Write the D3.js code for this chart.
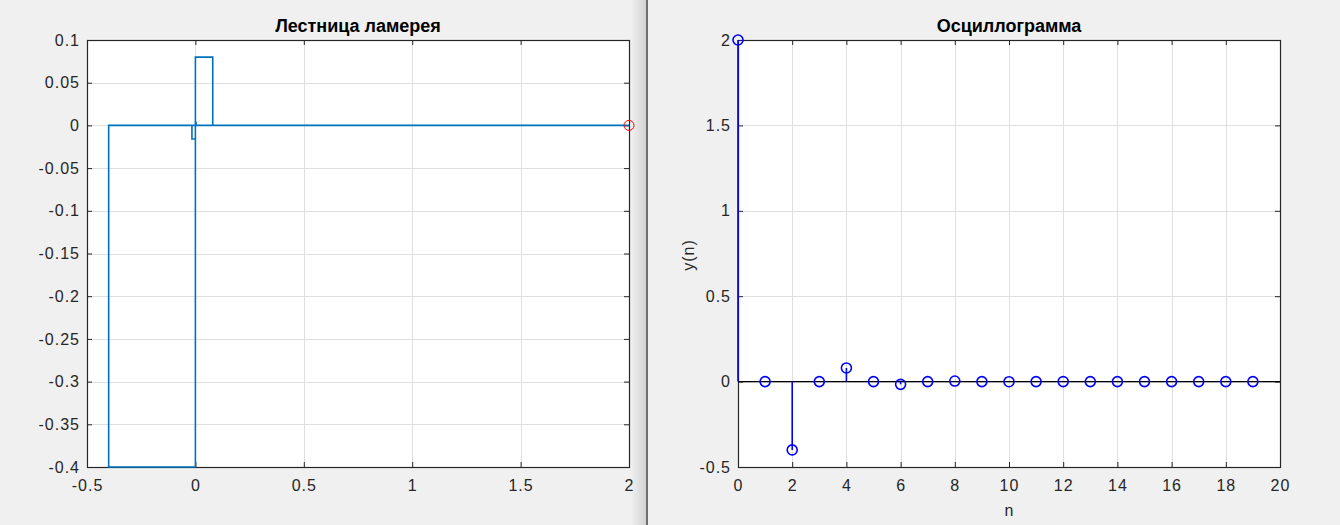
<!DOCTYPE html>
<html><head><meta charset="utf-8">
<script src="https://cdn.jsdelivr.net/npm/d3@7"></script>
<style>
html,body{margin:0;padding:0;background:#F0F0F0;}
svg{display:block;font-family:"Liberation Sans",Arial,Helvetica,sans-serif;}
</style></head>
<body>
<svg id="c" width="1340" height="525"></svg>
<script>
// ---- data ----
const leftTitle = "Лестница ламерея";
const rightTitle = "Осциллограмма";
const leftXTicks = [-0.5, 0, 0.5, 1, 1.5, 2];
const leftYTicks = [-0.4, -0.35, -0.3, -0.25, -0.2, -0.15, -0.1, -0.05, 0, 0.05, 0.1];
const rightXTicks = [0, 2, 4, 6, 8, 10, 12, 14, 16, 18, 20];
const rightYTicks = [-0.5, 0, 0.5, 1, 1.5, 2];
// sequence y(n), n = 0..19
const nValues = [0,1,2,3,4,5,6,7,8,9,10,11,12,13,14,15,16,17,18,19];
const yValues = [2, 0, -0.4, 0, 0.08, 0, -0.016, 0, 0.0032, 0, -0.00064, 0, 0.000128, 0, -0.0000256, 0, 0.00000512, 0, -0.000001024, 0];
// Lamerey staircase vertices (x, y)
const stairX = [2, 0, 0, -0.4, -0.4, 0, 0, 0.08, 0.08, 0, 0, -0.016, -0.016, 0, 0, 0.0032, 0.0032, 0];
const stairY = [0, 0, -0.4, -0.4, 0, 0, 0.08, 0.08, 0, 0, -0.016, -0.016, 0, 0, 0.0032, 0.0032, 0, 0];
const startPoint = [2, 0];

const svg = d3.select("#c");
const axisCol = "#262626", gridCol = "#DFDFDF";
const fontSize = 16;

// divider between two windows
const defs = svg.append("defs");
const g = defs.append("linearGradient").attr("id","sh").attr("x1","0").attr("x2","1");
g.append("stop").attr("offset","0").attr("stop-color","#F0F0F0");
g.append("stop").attr("offset","1").attr("stop-color","#D2D2D2");
svg.append("rect").attr("x",631).attr("y",0).attr("width",15).attr("height",525).attr("fill","url(#sh)");
svg.append("rect").attr("x",646).attr("y",0).attr("width",2).attr("height",525).attr("fill","#6E6E6E");

function panel(x0, x1, y0, y1, xd, yd, xt, yt, title) {
  const x = d3.scaleLinear().domain(xd).range([x0, x1]);
  const y = d3.scaleLinear().domain(yd).range([y1, y0]);
  const gp = svg.append("g");
  gp.append("rect").attr("x",x0).attr("y",y0).attr("width",x1-x0).attr("height",y1-y0).attr("fill","#fff");
  // grid
  gp.append("g").selectAll("line").data(xt).join("line")
    .attr("x1",d=>Math.round(x(d))+0.5).attr("x2",d=>Math.round(x(d))+0.5)
    .attr("y1",y0).attr("y2",y1).attr("stroke",gridCol).attr("stroke-width",1);
  gp.append("g").selectAll("line").data(yt).join("line")
    .attr("y1",d=>Math.round(y(d))+0.5).attr("y2",d=>Math.round(y(d))+0.5)
    .attr("x1",x0).attr("x2",x1).attr("stroke",gridCol).attr("stroke-width",1);
  // axes
  const fmt = d => String(+d.toFixed(4));
  const ax = d3.axisBottom(x).tickValues(xt).tickSizeInner(-5).tickSizeOuter(0).tickPadding(13).tickFormat(fmt);
  const ay = d3.axisLeft(y).tickValues(yt).tickSizeInner(-5).tickSizeOuter(0).tickPadding(7).tickFormat(fmt);
  const axT = d3.axisTop(x).tickValues(xt).tickSizeInner(-5).tickSizeOuter(0).tickFormat("");
  const ayR = d3.axisRight(y).tickValues(yt).tickSizeInner(-5).tickSizeOuter(0).tickFormat("");
  [[ax,`translate(0,${y1})`],[ay,`translate(${x0},0)`],[axT,`translate(0,${y0})`],[ayR,`translate(${x1},0)`]].forEach(([a,t])=>{
    const ga = gp.append("g").attr("transform",t).call(a);
    ga.attr("font-size",fontSize).attr("font-family","Liberation Sans, Arial, sans-serif");
    ga.selectAll("path,line").attr("stroke",axisCol);
    ga.selectAll("text").attr("fill",axisCol).attr("font-size",fontSize).attr("letter-spacing","1px");
  });
  gp.append("rect").attr("x",x0+0.5).attr("y",y0+0.5).attr("width",x1-x0).attr("height",y1-y0)
    .attr("fill","none").attr("stroke",axisCol).attr("stroke-width",1.2);
  gp.append("text").attr("x",(x0+x1)/2).attr("y",y0-8).attr("text-anchor","middle")
    .attr("font-weight","bold").attr("font-size",18).attr("fill","#000").text(title);
  return {x, y, gp};
}

// left panel
const L = panel(87, 629, 40, 467, [-0.5, 2], [-0.4, 0.1], leftXTicks, leftYTicks, leftTitle);
const pts = stairX.map((d,i)=>[d, stairY[i]]);
L.gp.append("path").datum(pts)
  .attr("d", d3.line().x(d=>L.x(d[0])).y(d=>L.y(d[1])))
  .attr("fill","none").attr("stroke","#0072BD").attr("stroke-width",1.6);
L.gp.append("circle").attr("cx",L.x(startPoint[0])).attr("cy",L.y(startPoint[1])).attr("r",5)
  .attr("fill","none").attr("stroke","#FF0000").attr("stroke-width",1);

// right panel
const R = panel(738, 1280, 40, 467, [0, 20], [-0.5, 2], rightXTicks, rightYTicks, rightTitle);
R.gp.append("line").attr("x1",R.x(0)).attr("x2",R.x(20)).attr("y1",R.y(0)).attr("y2",R.y(0))
  .attr("stroke","#000").attr("stroke-width",1.2);
R.gp.append("g").selectAll("line").data(nValues).join("line")
  .attr("x1",d=>R.x(d)).attr("x2",d=>R.x(d))
  .attr("y1",R.y(0)).attr("y2",(d,i)=>R.y(yValues[i]))
  .attr("stroke","#0000FF").attr("stroke-width",1.6);
R.gp.append("g").selectAll("circle").data(nValues).join("circle")
  .attr("cx",d=>R.x(d)).attr("cy",(d,i)=>R.y(yValues[i])).attr("r",5)
  .attr("fill","none").attr("stroke","#0000FF").attr("stroke-width",1.6);
svg.append("text").attr("x",1009).attr("y",516).attr("text-anchor","middle")
  .attr("font-size",fontSize).attr("fill",axisCol).text("n");
svg.append("text").attr("transform","translate(694,255) rotate(-90)").attr("text-anchor","middle")
  .attr("font-size",fontSize).attr("fill",axisCol).attr("letter-spacing","1px").text("y(n)");
</script>
</body></html>
